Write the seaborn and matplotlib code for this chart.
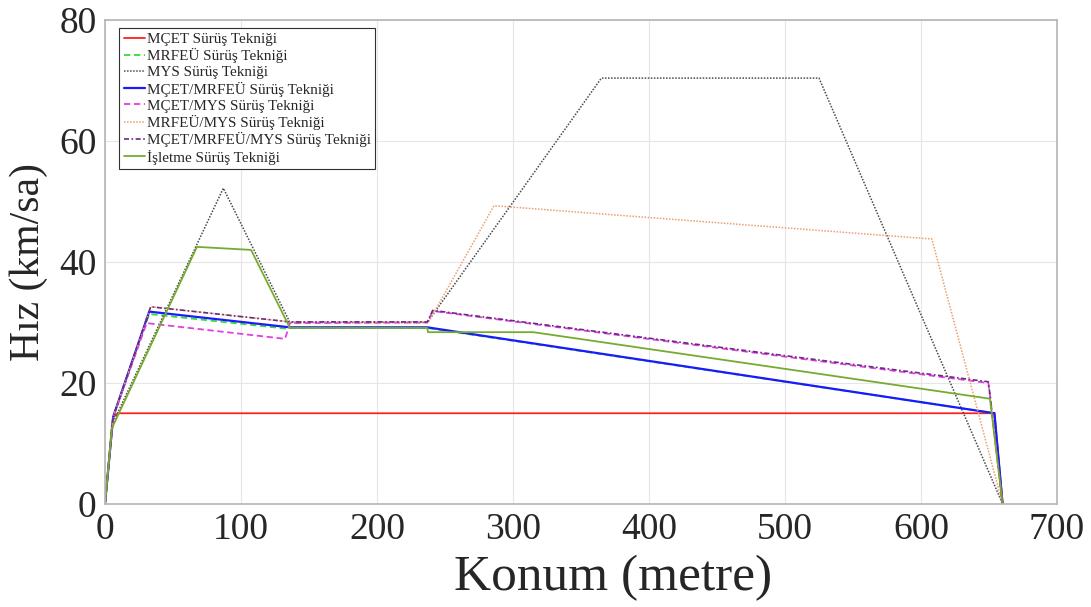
import matplotlib
matplotlib.use("Agg")
import matplotlib.pyplot as plt
import seaborn as sns
import pandas as pd

# Speed profiles (konum in metres, hız in km/sa) for each driving technique
mcet_x = [0, 6, 9.5, 654, 660]
mcet_y = [0, 14.4, 15, 15, 0]

mrfeu_x = [0, 6, 32.5, 133, 136, 237, 654, 660]
mrfeu_y = [0, 14.4, 31.4, 29.0, 29.1, 29.1, 15, 0]

mys_x = [0, 5, 87, 136, 237, 365, 525, 660]
mys_y = [0, 13, 52.2, 30.0, 30.0, 70.4, 70.4, 0]

mcet_mrfeu_x = [0, 6, 32.5, 136, 237, 654, 660]
mcet_mrfeu_y = [0, 14.4, 31.8, 29.2, 29.2, 15, 0]

mcet_mys_x = [0, 6, 30.6, 132.4, 136, 237, 241, 649.5, 651, 660]
mcet_mys_y = [0, 14.4, 29.9, 27.3, 29.9, 30.0, 31.9, 20.0, 17.5, 0]

mrfeu_mys_x = [0, 6, 33.6, 136, 238, 286, 608, 660]
mrfeu_mys_y = [0, 14.4, 32.6, 30.1, 30.1, 49.3, 43.8, 0]

mcet_mrfeu_mys_x = [0, 6, 33.6, 136, 237, 241, 649.5, 651, 660]
mcet_mrfeu_mys_y = [0, 14.4, 32.6, 30.1, 30.1, 32.0, 20.2, 17.5, 0]

isletme_x = [0, 5, 67.6, 107.4, 136, 237, 237.5, 315, 650.7, 660]
isletme_y = [0, 12.5, 42.5, 42.0, 29.1, 29.1, 28.4, 28.4, 17.4, 0]

labels = [
    "MÇET Sürüş Tekniği",
    "MRFEÜ Sürüş Tekniği",
    "MYS Sürüş Tekniği",
    "MÇET/MRFEÜ Sürüş Tekniği",
    "MÇET/MYS Sürüş Tekniği",
    "MRFEÜ/MYS Sürüş Tekniği",
    "MÇET/MRFEÜ/MYS Sürüş Tekniği",
    "İşletme Sürüş Tekniği",
]

xs = [mcet_x, mrfeu_x, mys_x, mcet_mrfeu_x, mcet_mys_x, mrfeu_mys_x,
      mcet_mrfeu_mys_x, isletme_x]
ys = [mcet_y, mrfeu_y, mys_y, mcet_mrfeu_y, mcet_mys_y, mrfeu_mys_y,
      mcet_mrfeu_mys_y, isletme_y]

styles = [
    dict(color="#ff2020", ls="-", lw=1.3),
    dict(color="#33dd33", ls=(0, (3.5, 2)), lw=1.3),
    dict(color="#4a4a4a", ls=(0, (1, 1)), lw=1.1),
    dict(color="#1a1aff", ls="-", lw=1.6),
    dict(color="#e040e0", ls=(0, (3.5, 2)), lw=1.3),
    dict(color="#e8a070", ls=(0, (1, 1)), lw=1.1),
    dict(color="#6a2a80", ls=(0, (3, 1.5, 1, 1.5)), lw=1.2),
    dict(color="#77ab30", ls="-", lw=1.3),
]

sns.set_style("white")
plt.rcParams["font.family"] = ["Liberation Serif", "DejaVu Serif"]

fig, ax = plt.subplots(figsize=(10.91, 6.07), dpi=100)
fig.subplots_adjust(left=105 / 1091, right=1057 / 1091,
                    bottom=1 - 504 / 607, top=1 - 20 / 607)

for x, y, lab, st in zip(xs, ys, labels, styles):
    df = pd.DataFrame({"Konum": x, "Hız": y})
    sns.lineplot(data=df, x="Konum", y="Hız", ax=ax, estimator=None,
                 sort=False, label=lab, color=st["color"],
                 linestyle=st["ls"], linewidth=st["lw"])

ax.set_xlim(0, 700)
ax.set_ylim(0, 80)
ax.set_xticks(range(0, 701, 100))
ax.set_yticks(range(0, 81, 20))
ax.grid(True, color="#e6e6e6", linewidth=0.8)
ax.set_axisbelow(True)

for sp in ax.spines.values():
    sp.set_color("#b5b5b5")
    sp.set_linewidth(1.2)
ax.tick_params(axis="both", direction="in", length=6, color="#a0a0a0",
               labelsize=27, labelcolor="#262626", pad=6, top=False,
               right=False)

ax.set_xlabel("Konum (metre)", fontsize=37, color="#262626")
ax.xaxis.set_label_coords(0.534, -0.105)
ax.set_ylabel("Hız (km/sa)", fontsize=30, color="#262626", labelpad=8)

leg = ax.legend(loc="upper left", bbox_to_anchor=(0.012, 0.99),
                fontsize=10.9, frameon=True, fancybox=False, framealpha=1,
                edgecolor="#303030", handlelength=1.4, handletextpad=0.1,
                labelspacing=0.15, borderpad=0.3, borderaxespad=0.2)
leg.get_frame().set_linewidth(0.8)

fig.savefig("out.png", dpi=100, facecolor="white")
